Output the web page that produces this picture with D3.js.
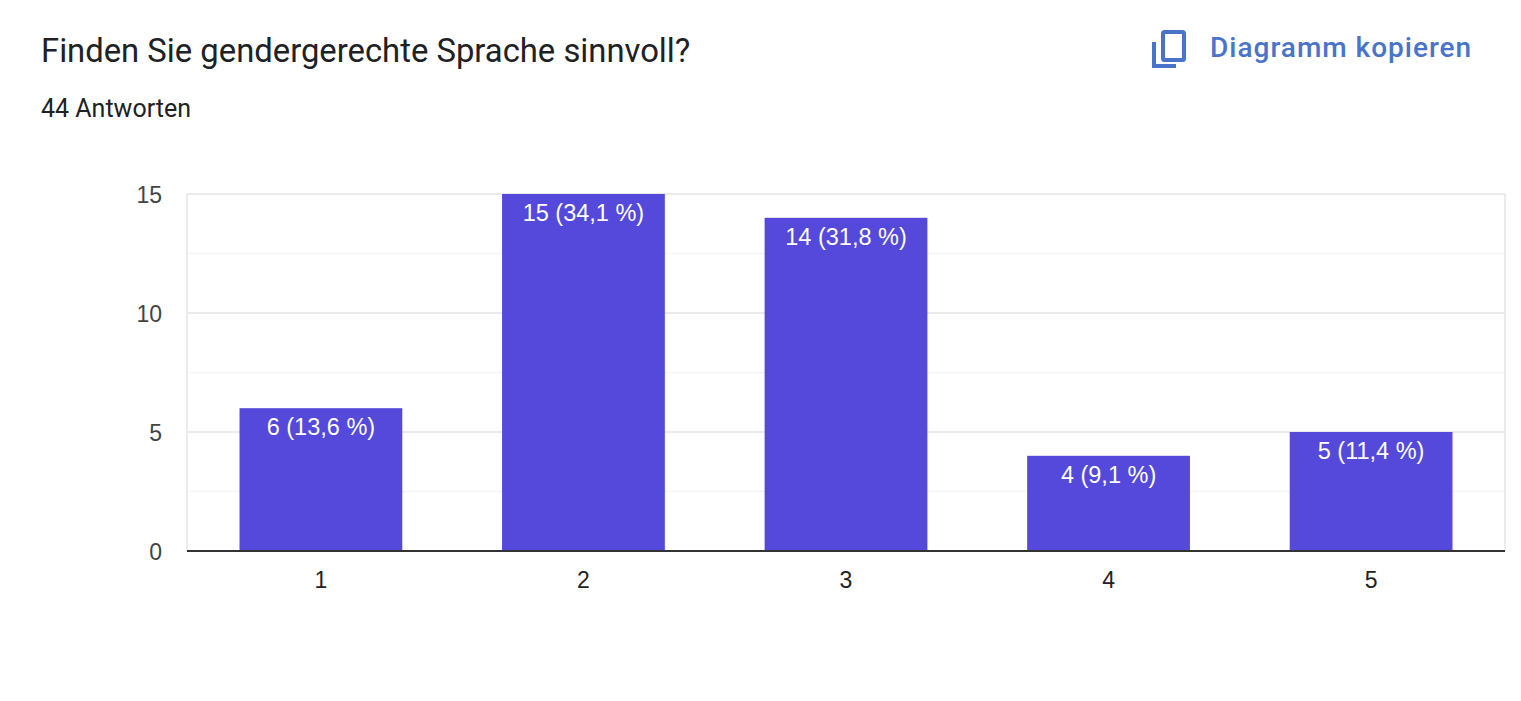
<!DOCTYPE html>
<html>
  <head>
    <meta charset="utf-8">
    <title>Finden Sie gendergerechte Sprache sinnvoll?</title>
    <script src="https://cdn.jsdelivr.net/npm/d3@7"></script>
    <style>
      body { margin: 0; background: #fff; }
    </style>
  </head>
  <body>
    <svg width="1521" height="701" id="mainsvg"></svg>
    <script>
        // data
        const categories = ['1', '2', '3', '4', '5'];
        const counts = [6, 15, 14, 4, 5];
        const labels = ['6 (13,6 %)', '15 (34,1 %)', '14 (31,8 %)', '4 (9,1 %)', '5 (11,4 %)'];
        const yTicks = [0, 5, 10, 15];
        const yMinorTicks = [2.5, 7.5, 12.5];

        const svg = d3.select('#mainsvg');
        const margin = {top: 194, right: 16, bottom: 150, left: 187};
        const innerWidth = +svg.attr('width') - margin.left - margin.right;
        const innerHeight = +svg.attr('height') - margin.top - margin.bottom;

        // header
        svg.append('text').attr('x', 41).attr('y', 62)
            .attr('font-family', 'Roboto').attr('font-size', 32.8).attr('fill', '#202124')
            .text('Finden Sie gendergerechte Sprache sinnvoll?');
        svg.append('text').attr('x', 41).attr('y', 117)
            .attr('font-family', 'Roboto').attr('font-size', 25).attr('fill', '#202124')
            .text('44 Antworten');

        // copy button
        const btn = svg.append('g').attr('fill', 'none').attr('stroke', '#4a74c9').attr('stroke-width', 4);
        btn.append('rect').attr('x', 1163).attr('y', 32).attr('width', 21).attr('height', 28).attr('rx', 1.5);
        btn.append('path').attr('d', 'M1154,42 V66 H1176');
        svg.append('text').attr('x', 1210).attr('y', 57)
            .attr('font-family', 'Roboto').attr('font-weight', 500).attr('font-size', 28)
            .attr('fill', '#4a74c9').attr('letter-spacing', 1.0)
            .text('Diagramm kopieren');

        const g = svg.append('g')
            .attr('transform', `translate(${margin.left}, ${margin.top})`);

        const x = d3.scaleBand().domain(categories).range([0, innerWidth])
            .paddingInner(0.38).paddingOuter(0.2);
        const y = d3.scaleLinear().domain([0, 15]).range([innerHeight, 0]);

        // gridlines
        g.selectAll('.minor').data(yMinorTicks).enter().append('line')
            .attr('x1', 0).attr('x2', innerWidth)
            .attr('y1', d => y(d)).attr('y2', d => y(d))
            .attr('stroke', '#f5f5f5').attr('stroke-width', 1.5);
        g.selectAll('.major').data(yTicks.filter(d => d > 0)).enter().append('line')
            .attr('x1', 0).attr('x2', innerWidth)
            .attr('y1', d => y(d)).attr('y2', d => y(d))
            .attr('stroke', '#ebebeb').attr('stroke-width', 2);
        [0, innerWidth].forEach(xx => {
            g.append('line').attr('x1', xx).attr('x2', xx)
                .attr('y1', y(15)).attr('y2', y(0))
                .attr('stroke', '#ebebeb').attr('stroke-width', 2);
        });

        // bars
        g.selectAll('.bar').data(counts).enter().append('rect')
            .attr('x', (d, i) => x(categories[i]))
            .attr('y', d => y(d))
            .attr('width', x.bandwidth())
            .attr('height', d => y(0) - y(d))
            .attr('fill', '#5449db');

        g.selectAll('.barlabel').data(counts).enter().append('text')
            .attr('x', (d, i) => x(categories[i]) + x.bandwidth() / 2)
            .attr('y', d => y(d) + 27)
            .attr('text-anchor', 'middle')
            .attr('font-family', 'Liberation Sans, Arial').attr('font-size', 23.5)
            .attr('fill', '#fff')
            .text((d, i) => labels[i]);

        // baseline
        g.append('line').attr('x1', 0).attr('x2', innerWidth)
            .attr('y1', y(0)).attr('y2', y(0))
            .attr('stroke', '#333').attr('stroke-width', 2);

        // axes labels
        g.selectAll('.ytick').data(yTicks).enter().append('text')
            .attr('x', -25).attr('y', d => y(d) + 8.5)
            .attr('text-anchor', 'end')
            .attr('font-family', 'Liberation Sans, Arial').attr('font-size', 23)
            .attr('fill', '#444')
            .text(d => d);
        g.selectAll('.xtick').data(categories).enter().append('text')
            .attr('x', d => x(d) + x.bandwidth() / 2).attr('y', innerHeight + 37)
            .attr('text-anchor', 'middle')
            .attr('font-family', 'Liberation Sans, Arial').attr('font-size', 23)
            .attr('fill', '#222')
            .text(d => d);
    </script>
  </body>
</html>
